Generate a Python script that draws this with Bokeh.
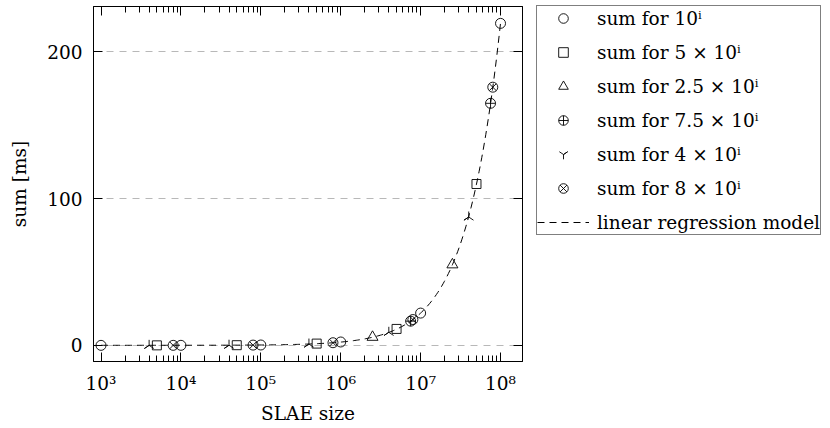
import numpy as np
from bokeh.plotting import figure
from bokeh.models import (Range1d, FixedTicker, LogAxis, LinearAxis, Legend,
                          LegendItem, CustomJSTickFormatter)
from bokeh.embed import file_html
from bokeh.resources import INLINE

# ---------------- data ----------------
x_10 = [1e3, 1e4, 1e5, 1e6, 1e7, 1e8]
y_10 = [0.003, 0.03, 0.25, 2.3, 22.0, 219.5]

x_5 = [5e3, 5e4, 5e5, 5e6, 5e7]
y_5 = [0.012, 0.12, 1.2, 11.2, 110.0]

x_25 = [2.5e6, 2.5e7]
y_25 = [5.6, 55.0]

x_75 = [7.5e6, 7.5e7]
y_75 = [16.5, 165.0]

x_4 = [4e3, 4e4, 4e5, 4e6, 4e7]
y_4 = [0.01, 0.09, 0.9, 8.9, 87.5]

x_8 = [8e3, 8e4, 8e5, 8e6, 8e7]
y_8 = [0.018, 0.18, 1.8, 17.6, 176.0]

series_labels = ["sum for 10\u2071", "sum for 5 \u00d7 10\u2071", "sum for 2.5 \u00d7 10\u2071",
                 "sum for 7.5 \u00d7 10\u2071", "sum for 4 \u00d7 10\u2071", "sum for 8 \u00d7 10\u2071"]
model_label = "linear regression model"

x_major_ticks = [10**3, 10**4, 10**5, 10**6, 10**7, 10**8]
x_tick_labels = ["10\u00b3", "10\u2074", "10\u2075", "10\u2076", "10\u2077", "10\u2078"]
x_minor_ticks = [k * 10**n for n in range(3, 8) for k in range(2, 10)]
y_ticks = [0, 100, 200]

x_title = "SLAE size"
y_title = "sum [ms]"

# ---------------- linear regression fitted to all points ----------------
all_x = np.array(x_10 + x_5 + x_25 + x_75 + x_4 + x_8)
all_y = np.array(y_10 + y_5 + y_25 + y_75 + y_4 + y_8)
slope, intercept = np.polyfit(all_x, all_y, 1)
reg_x = np.logspace(3, 8, 300)
reg_y = slope * reg_x + intercept

FONT = "DejaVu Serif"
FS = "18.5px"

p = figure(frame_width=429, frame_height=355, x_axis_type="log",
           x_range=Range1d(10**2.906, 10**8.275), y_range=Range1d(-11, 231),
           min_border_left=93, min_border_top=6, min_border_bottom=59,
           min_border_right=300, output_backend="svg", toolbar_location=None)

p.background_fill_color = "white"
p.border_fill_color = "white"
p.outline_line_color = "black"
p.outline_line_width = 1

p.xgrid.visible = False
p.ygrid.ticker = FixedTicker(ticks=y_ticks, minor_ticks=[])
p.ygrid.grid_line_color = "#b8b8b8"
p.ygrid.grid_line_dash = "7 6"
p.ygrid.grid_line_width = 1


def style_axis(ax):
    ax.major_tick_in = 9
    ax.major_tick_out = 0
    ax.minor_tick_in = 6
    ax.minor_tick_out = 0
    ax.major_tick_line_color = "black"
    ax.minor_tick_line_color = "black"
    ax.axis_line_color = "black"
    ax.major_label_text_font = FONT
    ax.major_label_text_font_size = FS
    ax.major_label_text_color = "black"
    ax.axis_label_text_font = FONT
    ax.axis_label_text_font_size = FS
    ax.axis_label_text_font_style = "normal"
    ax.axis_label_text_color = "black"


xa = p.xaxis[0]
xa.ticker = FixedTicker(ticks=x_major_ticks, minor_ticks=x_minor_ticks)
xa.major_label_overrides = dict(zip(x_major_ticks, x_tick_labels))
style_axis(xa)
xa.major_label_standoff = 11
xa.axis_label = x_title
xa.axis_label_standoff = 6

ya = p.yaxis[0]
ya.ticker = FixedTicker(ticks=y_ticks, minor_ticks=[])
style_axis(ya)
ya.major_label_standoff = 11
ya.axis_label = y_title
ya.axis_label_standoff = 14

blank = CustomJSTickFormatter(code="return ''")
top = LogAxis(ticker=FixedTicker(ticks=x_major_ticks, minor_ticks=x_minor_ticks),
              formatter=blank)
style_axis(top)
top.major_label_text_font_size = "0px"
top.major_label_standoff = 0
p.add_layout(top, "above")

right = LinearAxis(ticker=FixedTicker(ticks=y_ticks, minor_ticks=[]), formatter=blank)
style_axis(right)
right.major_label_text_font_size = "0px"
right.major_label_standoff = 0
p.add_layout(right, "right")

# regression line (drawn below markers)
r_reg = p.line(reg_x, reg_y, line_color="black", line_width=1, line_dash="7 5")

mk = dict(line_color="black", fill_color=None, line_width=0.9)
r10 = p.scatter(x_10, y_10, marker="circle", size=10, **mk)
r5 = p.scatter(x_5, y_5, marker="square", size=9, **mk)
r25 = p.scatter(x_25, y_25, marker="triangle", size=11, **mk)
r75 = p.scatter(x_75, y_75, marker="circle_cross", size=10, **mk)
r4 = p.scatter(x_4, y_4, marker="y", angle=np.pi, size=11, **mk)
r8 = p.scatter(x_8, y_8, marker="circle_x", size=10, **mk)

items = [LegendItem(label=lab, renderers=[r]) for lab, r in
         zip(series_labels, [r10, r5, r25, r75, r4, r8])]
items.append(LegendItem(label=model_label, renderers=[r_reg]))

legend = Legend(items=items, location=(-210, 126), padding=0, spacing=10,
                glyph_width=52, glyph_height=24, label_height=24, label_width=220,
                label_standoff=8, margin=0, border_line_color="black",
                border_line_width=1, background_fill_color="white",
                background_fill_alpha=1, label_text_font=FONT,
                label_text_font_size=FS, label_text_color="black")
p.add_layout(legend, "right")

open("out.html", "w").write(file_html(p, INLINE))
